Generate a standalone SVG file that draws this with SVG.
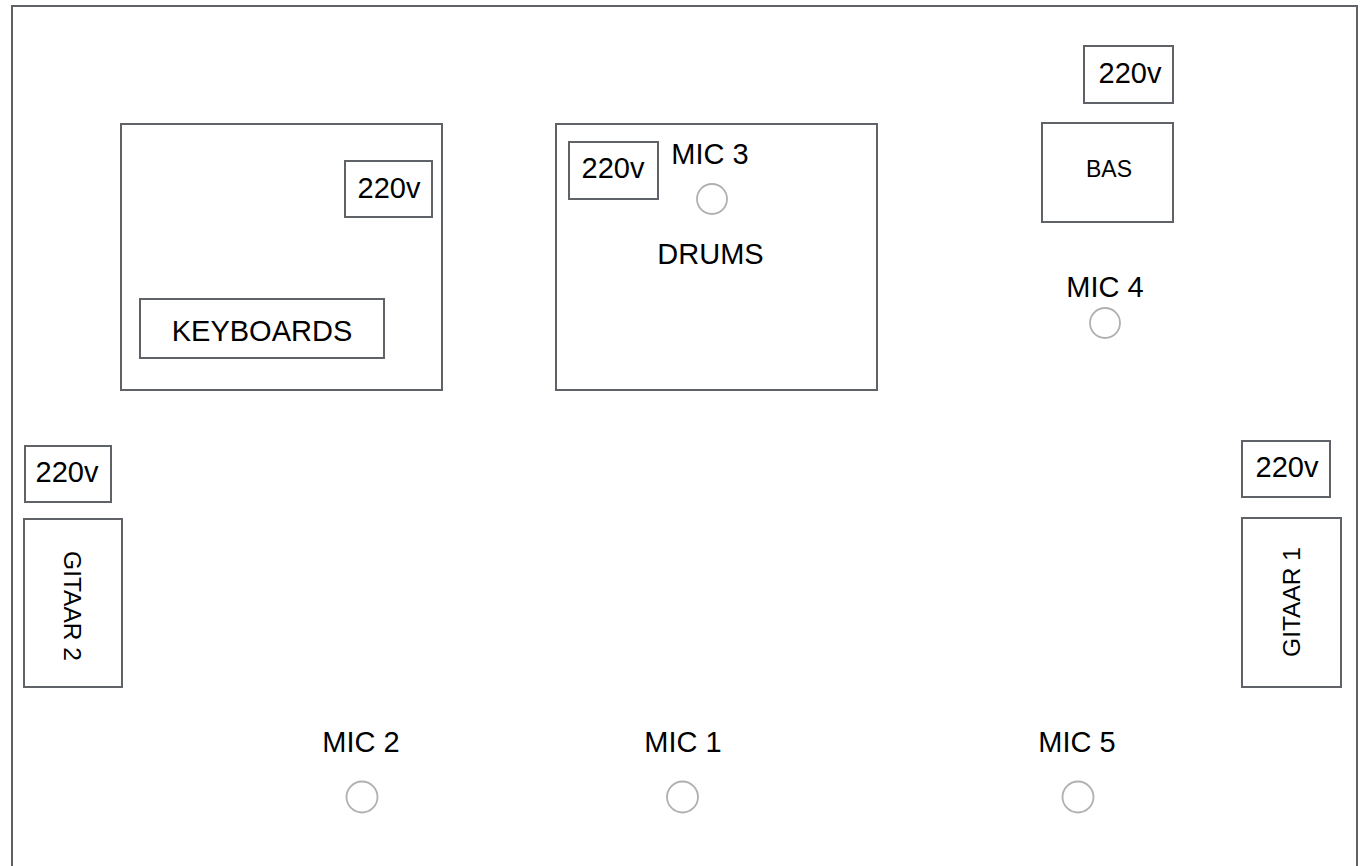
<svg xmlns="http://www.w3.org/2000/svg" width="1362" height="866" viewBox="0 0 1362 866">
<style>
.box{fill:#fff;stroke:#5f6368;stroke-width:2}
.mic{fill:none;stroke:#b0b0b0;stroke-width:1.8}
.t{font-family:"Liberation Sans",Arial,sans-serif;font-size:29px;fill:#000;text-anchor:middle}
.s{font-family:"Liberation Sans",Arial,sans-serif;font-size:23px;fill:#000;text-anchor:middle}
.g{font-family:"Liberation Sans",Arial,sans-serif;font-size:24.5px;fill:#000;text-anchor:middle}
</style>
<rect width="1362" height="866" fill="#fff"/>
<g id="stage"><rect class="box" x="12" y="6" width="1345" height="900"/></g>
<g id="keyboards-area">
<rect class="box" x="121" y="124" width="321" height="266"/>
</g>
<g id="keyboards-power"><rect class="box" x="345" y="161" width="87" height="56"/><text class="t" x="389" y="197.5">220v</text></g>
<g id="keyboards"><rect class="box" x="140" y="299" width="244" height="59"/><text class="t" x="262" y="341">KEYBOARDS</text></g>
<g id="drums"><rect class="box" x="556" y="124" width="321" height="266"/><text class="t" x="710.5" y="263.5">DRUMS</text></g>
<g id="drums-power"><rect class="box" x="569" y="142" width="89" height="57"/><text class="t" x="613" y="177.5">220v</text></g>
<g id="mic3"><text class="t" x="710" y="164">MIC 3</text><circle class="mic" cx="712" cy="199" r="15"/></g>
<g id="bas-power"><rect class="box" x="1084" y="46" width="89" height="57"/><text class="t" x="1130" y="82.5">220v</text></g>
<g id="bas"><rect class="box" x="1042" y="123" width="131" height="99"/><text class="s" x="1109" y="177">BAS</text></g>
<g id="mic4"><text class="t" x="1105" y="296.5">MIC 4</text><circle class="mic" cx="1105" cy="323" r="15"/></g>
<g id="gitaar2-power"><rect class="box" x="25" y="446" width="86" height="56"/><text class="t" x="67" y="481.5">220v</text></g>
<g id="gitaar2"><rect class="box" x="24" y="519" width="98" height="168"/><text class="g" transform="translate(63.5 606) rotate(90)">GITAAR 2</text></g>
<g id="gitaar1-power"><rect class="box" x="1242" y="441" width="88" height="56"/><text class="t" x="1287" y="476.5">220v</text></g>
<g id="gitaar1"><rect class="box" x="1242" y="518" width="99" height="169"/><text class="g" transform="translate(1299.5 602) rotate(-90)">GITAAR 1</text></g>
<g id="mic2"><text class="t" x="361" y="751.5">MIC 2</text><circle class="mic" cx="362" cy="797" r="15.5"/></g>
<g id="mic1"><text class="t" x="683" y="751.5">MIC 1</text><circle class="mic" cx="682.5" cy="797" r="15.5"/></g>
<g id="mic5"><text class="t" x="1077" y="751.5">MIC 5</text><circle class="mic" cx="1078" cy="797" r="15.5"/></g>
<g id="connectors"></g>
</svg>
